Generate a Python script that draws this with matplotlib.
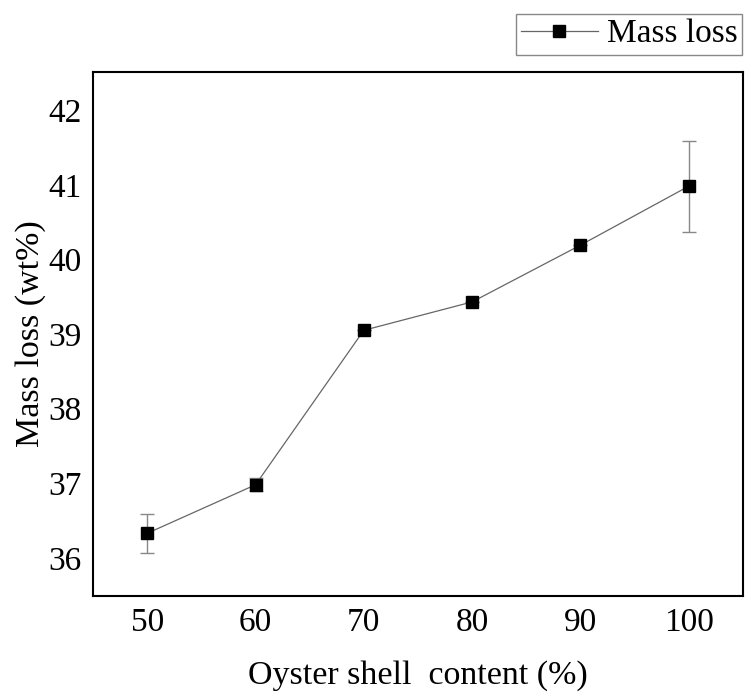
import matplotlib.pyplot as plt

content = [50, 60, 70, 80, 90, 100]
mass_loss = [36.33, 36.98, 39.05, 39.43, 40.19, 40.98]
mass_loss_err = [0.26, 0.09, 0.0, 0.0, 0.0, 0.61]

plt.rcParams["font.family"] = ["Liberation Serif", "DejaVu Serif"]

fig = plt.figure(figsize=(7.45, 6.93), dpi=100)
ax = fig.add_axes([0.125, 0.14, 0.872, 0.756])

ax.errorbar(content, mass_loss, yerr=mass_loss_err, fmt="none",
            ecolor="#888888", elinewidth=1.0, capsize=5, capthick=1.0)
ax.plot(content, mass_loss, color="#666666", lw=0.9, marker="s", markersize=8,
        markerfacecolor="black", markeredgecolor="black", label="Mass loss")

ax.set_xlim(45, 105)
ax.set_ylim(35.49, 42.51)
ax.set_xticks(content)
ax.set_yticks([36, 37, 38, 39, 40, 41, 42])
ax.tick_params(length=0, labelsize=24, pad=8)
for s in ax.spines.values():
    s.set_linewidth(1.5)

ax.set_xlabel("Oyster shell  content (%)", fontsize=24.5, labelpad=16)
ax.set_ylabel("Mass loss (wt%)", fontsize=24.5, labelpad=2)

leg = fig.legend(loc="upper left", bbox_to_anchor=(516 / 745, 1 - 14 / 693),
                 fontsize=24, handlelength=2.3, fancybox=False, framealpha=1,
                 borderpad=0.15, handletextpad=0.27, borderaxespad=0)
leg.get_frame().set_edgecolor("#888888")
leg.get_frame().set_linewidth(1.0)

fig.savefig("out.png", dpi=100)
